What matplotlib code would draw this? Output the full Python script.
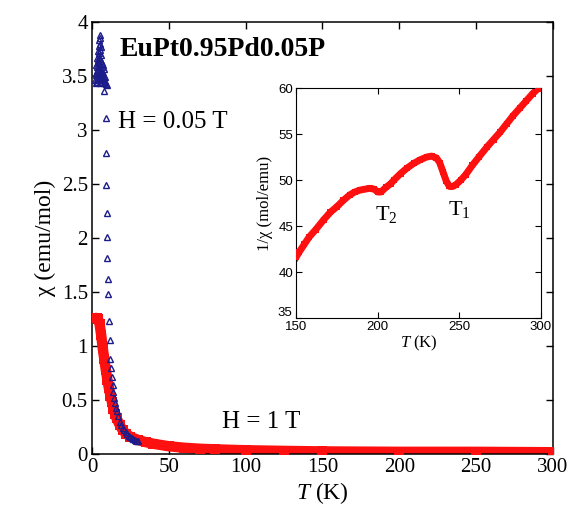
import matplotlib
matplotlib.use("Agg")
import matplotlib.pyplot as plt
import matplotlib.transforms as mtrans
from matplotlib.ticker import FuncFormatter, MultipleLocator

plt.rcParams["font.family"] = ["Liberation Serif", "DejaVu Serif"]
plt.rcParams["mathtext.fontset"] = "custom"
plt.rcParams["mathtext.rm"] = "Liberation Serif"
plt.rcParams["mathtext.it"] = "Liberation Serif:italic"

# H = 1 T, susceptibility (emu/mol) vs T (K)
t_1t = [2, 3, 4, 5, 6, 7, 8, 9, 10, 11, 12, 13, 14, 15, 16, 18, 20, 22, 25,
        30, 35, 40, 50, 60, 70, 80, 100, 125, 150, 200, 250, 300]
chi_1t = [1.26, 1.26, 1.25, 1.20, 1.10, 0.98, 0.88, 0.78, 0.69, 0.61, 0.54,
          0.48, 0.42, 0.37, 0.33, 0.27, 0.22, 0.19, 0.16, 0.13, 0.11, 0.095,
          0.072, 0.058, 0.049, 0.043, 0.035, 0.029, 0.024, 0.0204, 0.0203,
          0.0167]

# H = 0.05 T, susceptibility (emu/mol) vs T (K)
t_005t = [2.0, 2.5, 3.0, 3.5, 4.0, 4.5, 5.0, 5.5, 6.0, 6.5, 7.0, 7.5, 8.0,
          8.5, 9.0, 9.5,
          2.3, 2.8, 3.3, 3.8, 4.3, 4.8, 5.3, 5.8, 6.3, 6.8, 7.3, 7.8, 8.3,
          2.7, 3.4, 4.1, 4.8, 5.5, 6.2, 6.9, 7.6,
          3.2, 3.9, 4.6, 5.3, 6.0, 6.7,
          3.8, 4.5, 5.2, 5.9,
          4.4, 5.0, 5.6, 4.8, 5.2, 5.0,
          7.8, 9.1, 9.1, 9.1, 9.8, 9.8, 9.8, 10.4, 10.4, 11.0, 11.7,
          12.0, 12.5, 13.0, 13.5, 14.0, 14.5, 15.0, 15.5, 16.0, 17.0, 18.0,
          19.0, 20.0, 21.0, 22.0, 23.0, 24.0, 25.0, 26.0, 27.0, 28.0, 29.0,
          30.0]
chi_005t = [3.46, 3.44, 3.47, 3.45, 3.48, 3.46, 3.44, 3.47, 3.45, 3.48,
            3.46, 3.44, 3.47, 3.45, 3.43, 3.42,
            3.53, 3.51, 3.55, 3.52, 3.54, 3.51, 3.55, 3.52, 3.54, 3.51,
            3.53, 3.50, 3.49,
            3.60, 3.58, 3.62, 3.59, 3.61, 3.58, 3.60, 3.57,
            3.67, 3.65, 3.68, 3.66, 3.64, 3.62,
            3.73, 3.71, 3.74, 3.70,
            3.78, 3.80, 3.77, 3.83, 3.85, 3.88,
            3.36, 3.11, 2.79, 2.49, 2.23, 2.01, 1.82, 1.62, 1.48, 1.23, 1.06,
            0.88, 0.80, 0.71, 0.64, 0.57, 0.52, 0.47, 0.43, 0.40, 0.35, 0.30,
            0.27, 0.24, 0.22, 0.20, 0.185, 0.17, 0.16, 0.15, 0.14, 0.13,
            0.125, 0.12]

# inset: inverse susceptibility (mol/emu) vs T (K)
t_inv = [150, 152, 155, 158, 162, 167, 171, 175, 179, 183, 186, 189, 192,
         195, 198, 200, 202, 205, 208, 210, 214, 218, 222, 226, 230, 233,
         236, 238, 240, 242, 244, 246, 248, 251, 254, 258, 262, 267, 271,
         275, 279, 283, 287, 291, 295, 298]
inv_chi = [41.6, 42.2, 43.0, 43.8, 44.6, 45.7, 46.5, 47.1, 47.8, 48.4,
           48.7, 48.9, 49.0, 49.1, 49.0, 48.7, 48.7, 49.2, 49.6, 50.0,
           50.7, 51.3, 51.8, 52.2, 52.5, 52.6, 52.4, 51.9, 50.9, 49.9,
           49.3, 49.3, 49.5, 50.0, 50.6, 51.6, 52.5, 53.6, 54.4, 55.2,
           56.1, 57.0, 57.8, 58.6, 59.4, 59.9]

fig = plt.figure(figsize=(5.76, 5.15), dpi=100)
ax = fig.add_axes([0.1597, 0.1184, 0.8003, 0.8386])

red = "#ff1010"
ax.plot(t_1t, chi_1t, "-", color=red, lw=7.5, solid_capstyle="butt",
        zorder=2)
ax.plot(t_1t, chi_1t, "s", color=red, ms=7, mfc=red, mew=0, zorder=3)
ax.plot(t_005t, chi_005t, "^", ms=5, mfc="none", mec="#1c1c8a", mew=1,
        linestyle="none", zorder=4)

ax.set_xlim(0, 300)
ax.set_ylim(0, 4)
ax.xaxis.set_major_locator(MultipleLocator(50))
ax.yaxis.set_major_locator(MultipleLocator(0.5))
ax.yaxis.set_major_formatter(FuncFormatter(lambda v, p: "%g" % v))
ax.tick_params(direction="in", length=5, width=1, top=True, right=True,
               labelsize=15, pad=3)
for s in ax.spines.values():
    s.set_linewidth(1.1)
ax.set_xlabel(r"$\it{T}$ (K)", fontsize=17, labelpad=2)
ax.set_ylabel("χ (emu/mol)", fontsize=17, labelpad=4)

ax.text(18, 3.69, "EuPt0.95Pd0.05P", fontsize=20, fontweight="bold")
ax.text(17, 3.02, "H = 0.05 T", fontsize=18)
ax.text(84.5, 0.24, "H = 1 T", fontsize=18)

# inset
axi = fig.add_axes([0.514, 0.3825, 0.425, 0.4465])
axi.plot(t_inv, inv_chi, "-", color=red, lw=5, zorder=2)
axi.plot(t_inv, inv_chi, "s", color=red, ms=4.5, mfc=red, mew=0, zorder=3)
axi.set_xlim(150, 300)
axi.set_ylim(35, 60)
axi.xaxis.set_major_locator(MultipleLocator(50))
axi.yaxis.set_major_locator(MultipleLocator(5))
axi.tick_params(direction="in", length=4, width=0.8, top=True, right=True,
                labelsize=9.5, pad=2)
axi.set_xlabel(r"$\it{T}$ (K)", fontsize=12, labelpad=1)
axi.set_ylabel("1/χ (mol/emu)", fontsize=12, labelpad=3)
axi.text(198.4, 45.7, r"T$_{\mathrm{2}}$", fontsize=16)
axi.text(243, 46.2, r"T$_{\mathrm{1}}$", fontsize=16)

fig.canvas.draw()
for tick in axi.xaxis.get_major_ticks() + axi.yaxis.get_major_ticks():
    tick.label1.set_family("Liberation Sans")
# the lowest y label sits a bit above its tick, as in the original
for tick in axi.yaxis.get_major_ticks():
    if abs(tick.get_loc() - 35) < 1e-6:
        lab = tick.label1
        lab.set_transform(lab.get_transform() + mtrans.ScaledTranslation(
            -1 / 72, 5 / 72, fig.dpi_scale_trans))

fig.savefig("out.png", dpi=100)
